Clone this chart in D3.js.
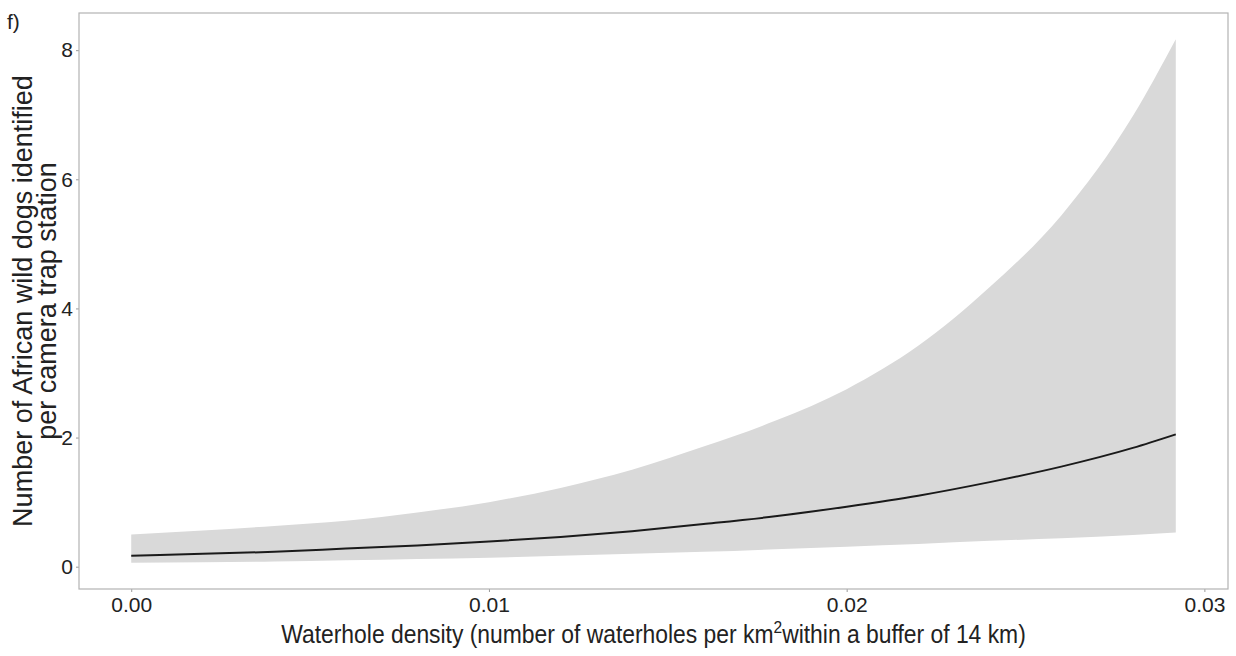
<!DOCTYPE html>
<html>
<head>
<meta charset="utf-8">
<script src="https://cdn.jsdelivr.net/npm/d3@7"></script>
<style>
	body { margin: 0; background: #fff; }
	text { font-family: "Liberation Sans", Arial, sans-serif; fill: #222; }
</style>
</head>
<body>
<div id="chart-area"></div>
<script>

// Waterhole density (x), predicted mean and 95% band
var density = [0, 0.002, 0.004, 0.006, 0.008, 0.010, 0.012, 0.014, 0.016, 0.018, 0.020, 0.022, 0.024, 0.026, 0.028, 0.0292];
var fitted  = [0.17, 0.20, 0.23, 0.28, 0.33, 0.39, 0.46, 0.55, 0.66, 0.78, 0.93, 1.10, 1.31, 1.55, 1.84, 2.05];
var lower   = [0.06, 0.07, 0.08, 0.10, 0.12, 0.14, 0.17, 0.20, 0.23, 0.27, 0.31, 0.35, 0.40, 0.44, 0.49, 0.53];
var upper   = [0.50, 0.56, 0.63, 0.71, 0.84, 1.00, 1.22, 1.50, 1.86, 2.26, 2.75, 3.42, 4.33, 5.44, 6.98, 8.17];

// Tick labels
var xTicks = [0, 0.01, 0.02, 0.03];
var yTicks = [0, 2, 4, 6, 8];


// Canvas size and panel margins
var W = 1236, H = 656;
var margin = { top : 13, bottom : 67, left : 79, right : 8 };
var width  = W - margin.left - margin.right;
var height = H - margin.top  - margin.bottom;


// Build rows from the arrays
var data = density.map(function(d, i) {
	return { x : d, fit : fitted[i], lo : lower[i], hi : upper[i] };
});


var svg = d3.select('#chart-area')
	.append('svg')
		.attr('width', W)
		.attr('height', H);

var g = svg.append('g')
	.attr('transform', 'translate(' + margin.left + ', ' + margin.top + ')');


// ggplot style 5% expansion of the data range
var xMin = d3.min(density), xMax = d3.max(density);
var yMin = d3.min(lower),   yMax = d3.max(upper);
var xPad = (xMax - xMin) * 0.05, yPad = (yMax - yMin) * 0.05;

var x = d3.scaleLinear()
	.domain([xMin - xPad, xMax + xPad])
	.range([0, width]);

var y = d3.scaleLinear()
	.domain([yMin - yPad, yMax + yPad])
	.range([height, 0]);


// Confidence ribbon
var area = d3.area()
	.x(function(d) { return x(d.x); })
	.y0(function(d) { return y(d.lo); })
	.y1(function(d) { return y(d.hi); })
	.curve(d3.curveMonotoneX);

g.append('path')
	.datum(data)
	.attr('d', area)
	.attr('fill', '#d9d9d9');


// Fitted line
var line = d3.line()
	.x(function(d) { return x(d.x); })
	.y(function(d) { return y(d.fit); })
	.curve(d3.curveMonotoneX);

g.append('path')
	.datum(data)
	.attr('d', line)
	.attr('fill', 'none')
	.attr('stroke', '#1a1a1a')
	.attr('stroke-width', 2);


// Axes
var xAxisCall = d3.axisBottom(x)
	.tickValues(xTicks)
	.tickSize(3)
	.tickPadding(4)
	.tickFormat(d3.format('.2f'));

var yAxisCall = d3.axisLeft(y)
	.tickValues(yTicks)
	.tickSize(3)
	.tickPadding(3)
	.tickFormat(d3.format('d'));

var xAxisGroup = g.append('g')
	.attr('transform', 'translate(0,' + height + ')')
	.call(xAxisCall);

var yAxisGroup = g.append('g')
	.call(yAxisCall);

[xAxisGroup, yAxisGroup].forEach(function(a) {
	a.select('.domain').remove();
	a.selectAll('.tick line').attr('stroke', '#9a9a9a');
	a.selectAll('.tick text')
		.attr('font-size', '21px')
		.attr('font-family', '"Liberation Sans", Arial, sans-serif')
		.attr('fill', '#222');
});
xAxisGroup.selectAll('.tick text').attr('dy', '0.71em').attr('y', 8);


// Panel border
g.append('rect')
	.attr('width', width)
	.attr('height', height)
	.attr('fill', 'none')
	.attr('stroke', '#b3b3b3')
	.attr('stroke-width', 1.2);


// x-coord title with a superscript (slightly narrow, like the original)
var xLabel = g.append('text')
	.attr('transform', 'translate(' + (width / 2) + ',' + (height + 54) + ') scale(0.915,1)')
	.attr('font-size', '25px')
	.attr('text-anchor', 'middle');
xLabel.append('tspan').text('Waterhole density (number of waterholes per km');
xLabel.append('tspan').attr('dy', -10).attr('font-size', '17px').text('2');
xLabel.append('tspan').attr('dy', 10).text('within a buffer of 14 km)');


// y-coord title on two lines
var yLabel = g.append('text')
	.attr('transform', 'rotate(-90)')
	.attr('font-size', '27px')
	.attr('text-anchor', 'middle');
yLabel.append('tspan')
	.attr('x', -height / 2)
	.attr('y', -47)
	.text('Number of African wild dogs identified');
yLabel.append('tspan')
	.attr('x', -height / 2)
	.attr('y', -23)
	.text('per camera trap station');


// Panel tag
svg.append('text')
	.attr('x', 7)
	.attr('y', 29)
	.attr('font-size', '21px')
	.text('f)');

</script>
</body>
</html>
